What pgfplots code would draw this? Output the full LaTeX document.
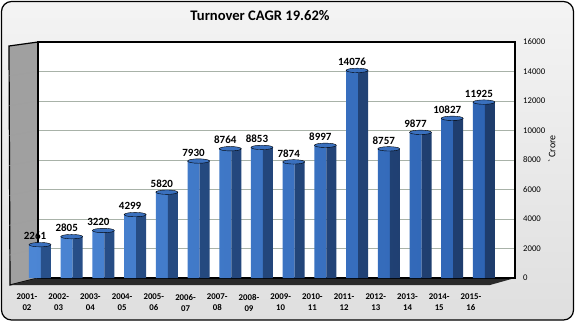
\documentclass[border=0pt]{standalone}
\usepackage{pgfplots}
\usepackage{pgfplotstable}
\pgfplotsset{compat=1.18}
\usepackage{fontspec}
\setmainfont{Carlito}
\definecolor{frontL}{RGB}{76,134,212}
\definecolor{frontR}{RGB}{46,100,180}
\definecolor{sideL}{RGB}{40,80,138}
\definecolor{sideR}{RGB}{30,60,108}
\definecolor{capc}{RGB}{58,112,190}
\definecolor{gridc}{RGB}{168,178,168}
\definecolor{wallc}{RGB}{160,160,160}
\definecolor{floorc}{RGB}{42,42,42}
\pgfplotstableread{
x y
0 2261
1 2805
2 3220
3 4299
4 5820
5 7930
6 8764
7 8853
8 7874
9 8997
10 14076
11 8757
12 9877
13 10827
14 11925
}\turnover
\begin{document}
\begin{tikzpicture}[x=1pt,y=1pt]
\useasboundingbox (0,0) rectangle (575,325);
\draw[line width=1.2pt, rounded corners=10pt, top color=gray!9, bottom color=gray!25, draw=black] (1.5,5) rectangle (573.5,323.5);
% left wall
\filldraw[fill=wallc, draw=black, line width=1.2pt] (10,40) -- (9,279) -- (38,283) -- (38,47) -- cycle;
\foreach \k in {1,...,7}{
  \pgfmathsetmacro{\yy}{47+\k*29.5}
  \pgfmathsetmacro{\oo}{7-3*\k/8}
  \draw[gray!75, line width=0.6pt] (38,\yy) -- (9.5,\yy-\oo);
}
% floor
\fill[floorc] (10,40) -- (38,47) -- (515,47) -- (490,40) -- cycle;
\node[font=\bfseries\fontsize{14.6}{16}\selectfont] at (260,309) {Turnover CAGR 19.62\%};
\node[rotate=90, font=\fontsize{10}{12}\selectfont] at (552,176) {\textasciigrave\ Crore};
\begin{axis}[
  at={(38pt,47pt)}, anchor=south west,
  scale only axis, width=477pt, height=236pt,
  xmin=-0.063, xmax=14.98, ymin=0, ymax=16000,
  clip=false,
  axis background/.style={fill=white},
  axis line style={line width=1.4pt, black},
  xtick={0,...,14},
  xticklabels={{2001-\\02},{2002-\\03},{2003-\\04},{2004-\\05},{2005-\\06},{2006-\\07},{2007-\\08},{2008-\\09},{2009-\\10},{2010-\\11},{2011-\\12},{2012-\\13},{2013-\\14},{2014-\\15},{2015-\\16}},
  xticklabel style={align=center, font=\bfseries\fontsize{8.8}{11}\selectfont, xshift=-13pt, anchor=north, inner sep=0pt, yshift=-16pt},
  ytick={0,2000,...,16000},
  yticklabel pos=right,
  scaled y ticks=false,
  /pgf/number format/assume math mode=true,
  /pgf/number format/1000 sep={},
  yticklabel style={anchor=west, inner sep=0pt, xshift=8pt, font=\fontsize{8.7}{10}\selectfont},
  major tick length=0pt,
  ymajorgrids, grid style={color=gridc, line width=0.9pt},
]
\addplot[ybar, bar width=12pt, bar shift=-5pt, draw=none, left color=frontL, right color=frontR] table[x=x,y=y] {\turnover};
\addplot[ybar, bar width=10pt, bar shift=6pt, draw=none, left color=sideL, right color=sideR] table[x=x,y=y] {\turnover};
\addplot[only marks, mark=*, mark size=11pt, mark options={yscale=0.2, fill=capc, draw=none},
  nodes near coords, nodes near coords style={font=\bfseries\fontsize{11}{12}\selectfont, anchor=center, xshift=-5pt, yshift=8.5pt, inner sep=0pt, text=black}] table[x=x,y=y] {\turnover};
\end{axis}
\end{tikzpicture}
\end{document}
